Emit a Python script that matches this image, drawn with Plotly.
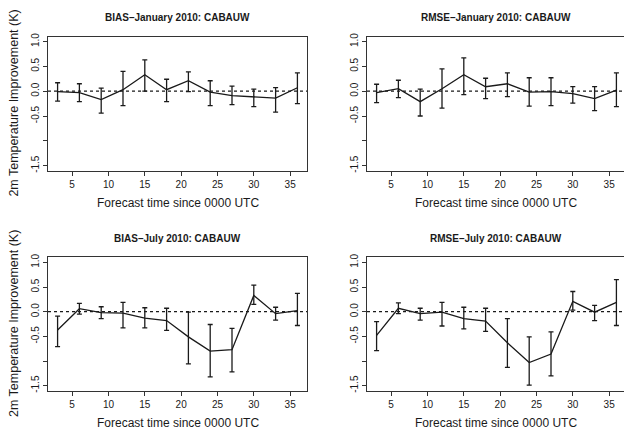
import plotly.graph_objects as go

# Forecast lead times (hours since 0000 UTC)
hours = [3, 6, 9, 12, 15, 18, 21, 24, 27, 30, 33, 36]

# BIAS - January 2010
bias_jan = [-0.01, -0.03, -0.17, 0.03, 0.33, 0.03, 0.21, -0.02, -0.09, -0.11, -0.14, 0.07]
bias_jan_hi = [0.17, 0.15, 0.06, 0.40, 0.63, 0.24, 0.39, 0.21, 0.10, 0.04, 0.07, 0.37]
bias_jan_lo = [-0.20, -0.21, -0.44, -0.29, 0.00, -0.21, -0.01, -0.29, -0.27, -0.31, -0.42, -0.25]

# RMSE - January 2010
rmse_jan = [-0.03, 0.05, -0.21, 0.05, 0.33, 0.09, 0.15, -0.02, -0.01, -0.05, -0.15, 0.02]
rmse_jan_hi = [0.14, 0.22, 0.04, 0.45, 0.67, 0.26, 0.37, 0.27, 0.27, 0.09, 0.09, 0.37]
rmse_jan_lo = [-0.23, -0.13, -0.50, -0.34, -0.07, -0.15, -0.11, -0.30, -0.29, -0.24, -0.39, -0.31]

# BIAS - July 2010
bias_jul = [-0.37, 0.06, -0.02, -0.03, -0.13, -0.18, -0.51, -0.80, -0.77, 0.33, -0.04, 0.02]
bias_jul_hi = [-0.09, 0.17, 0.10, 0.19, 0.08, 0.07, -0.01, -0.26, -0.34, 0.54, 0.09, 0.37]
bias_jul_lo = [-0.71, -0.05, -0.14, -0.33, -0.33, -0.38, -1.06, -1.32, -1.22, 0.15, -0.17, -0.28]

# RMSE - July 2010
rmse_jul = [-0.48, 0.07, -0.04, -0.01, -0.14, -0.19, -0.63, -1.03, -0.86, 0.21, -0.01, 0.19]
rmse_jul_hi = [-0.20, 0.18, 0.07, 0.19, 0.09, 0.07, -0.14, -0.51, -0.41, 0.41, 0.13, 0.65]
rmse_jul_lo = [-0.79, -0.04, -0.17, -0.29, -0.35, -0.40, -1.13, -1.49, -1.30, 0.03, -0.18, -0.28]

titles = ["BIAS\u2013January 2010: CABAUW", "RMSE\u2013January 2010: CABAUW",
          "BIAS\u2013July 2010: CABAUW", "RMSE\u2013July 2010: CABAUW"]
ytick_vals = [1.0, 0.5, 0.0, -0.5, -1.0, -1.5]
ytick_text = ["1.0", "0.5", "0.0", "-0.5", "", "-1.5"]
xtick_vals = [5, 10, 15, 20, 25, 30, 35]
x_label = "Forecast time since 0000 UTC"
y_label = "2m Temperature Improvement (K)"

W, H = 624, 435
FONT = "Liberation Sans, Arial, Helvetica, sans-serif"
INK = "#1a1a1a"

# panel boxes in pixels: (left, right, top, bottom)
boxes = [(48, 307, 33, 169), (367, 624, 33, 169),
         (48, 307, 257, 392), (367, 624, 257, 392)]
px_per_hour = 259 / (37.32 - 1.68)

panels = [(bias_jan, bias_jan_hi, bias_jan_lo),
          (rmse_jan, rmse_jan_hi, rmse_jan_lo),
          (bias_jul, bias_jul_hi, bias_jul_lo),
          (rmse_jul, rmse_jul_hi, rmse_jul_lo)]

fig = go.Figure()
annotations = []
shapes = []
layout = {}

for i, ((vals, hi, lo), (l, r, t, b)) in enumerate(zip(panels, boxes)):
    n = i + 1
    xa = "x" if n == 1 else f"x{n}"
    ya = "y" if n == 1 else f"y{n}"
    fig.add_trace(go.Scatter(
        x=hours, y=vals, xaxis=xa, yaxis=ya, mode="lines",
        line=dict(color=INK, width=1.3),
        error_y=dict(type="data", symmetric=False,
                     array=[h - v for h, v in zip(hi, vals)],
                     arrayminus=[v - lo_ for v, lo_ in zip(vals, lo)],
                     color=INK, thickness=1.3, width=2.5),
        showlegend=False, hoverinfo="skip"))

    right_edge = r >= W
    x_hi = 1.68 + (r - l) / px_per_hour
    layout["xaxis" if n == 1 else f"xaxis{n}"] = dict(
        domain=[l / W, r / W], range=[1.68, x_hi], anchor=ya,
        tickvals=xtick_vals, ticks="outside", ticklen=4, tickwidth=1,
        tickcolor="#333", showline=True, linecolor="#333", linewidth=1,
        mirror=True, showgrid=False, zeroline=False,
        tickfont=dict(family=FONT, size=10, color=INK))
    layout["yaxis" if n == 1 else f"yaxis{n}"] = dict(
        domain=[1 - b / H, 1 - t / H], range=[-1.6, 1.1], anchor=xa,
        tickvals=ytick_vals, ticktext=ytick_text, tickangle=-90,
        ticks="outside", ticklen=4, tickwidth=1, tickcolor="#333",
        showline=True, linecolor="#333", linewidth=1,
        mirror=not right_edge, showgrid=False, zeroline=False,
        tickfont=dict(family=FONT, size=10, color=INK))

    # dashed reference line at zero improvement
    shapes.append(dict(type="line", xref=f"{xa} domain", yref=ya,
                       x0=0, x1=1, y0=0, y1=0,
                       line=dict(color=INK, width=1.2, dash="3px,3px")))

    cx = (l + l + 259) / 2
    annotations.append(dict(text=f"<b>{titles[i]}</b>", xref="paper", yref="paper",
                            x=cx / W, y=1 - (t - 19) / H, showarrow=False,
                            xanchor="center", yanchor="middle",
                            font=dict(family=FONT, size=10, color=INK)))
    annotations.append(dict(text=x_label, xref="paper", yref="paper",
                            x=cx / W, y=1 - (b + 33) / H, showarrow=False,
                            xanchor="center", yanchor="middle",
                            font=dict(family=FONT, size=12, color=INK)))
    if l < 100:
        annotations.append(dict(text=y_label, xref="paper", yref="paper",
                                x=14 / W, y=1 - ((t + b) / 2) / H, showarrow=False,
                                textangle=-90, xanchor="center", yanchor="middle",
                                font=dict(family=FONT, size=12.5, color=INK)))

fig.update_layout(width=W, height=H, margin=dict(l=0, r=0, t=0, b=0),
                  paper_bgcolor="white", plot_bgcolor="white",
                  annotations=annotations, shapes=shapes, **layout)

fig.write_html("out.html")
